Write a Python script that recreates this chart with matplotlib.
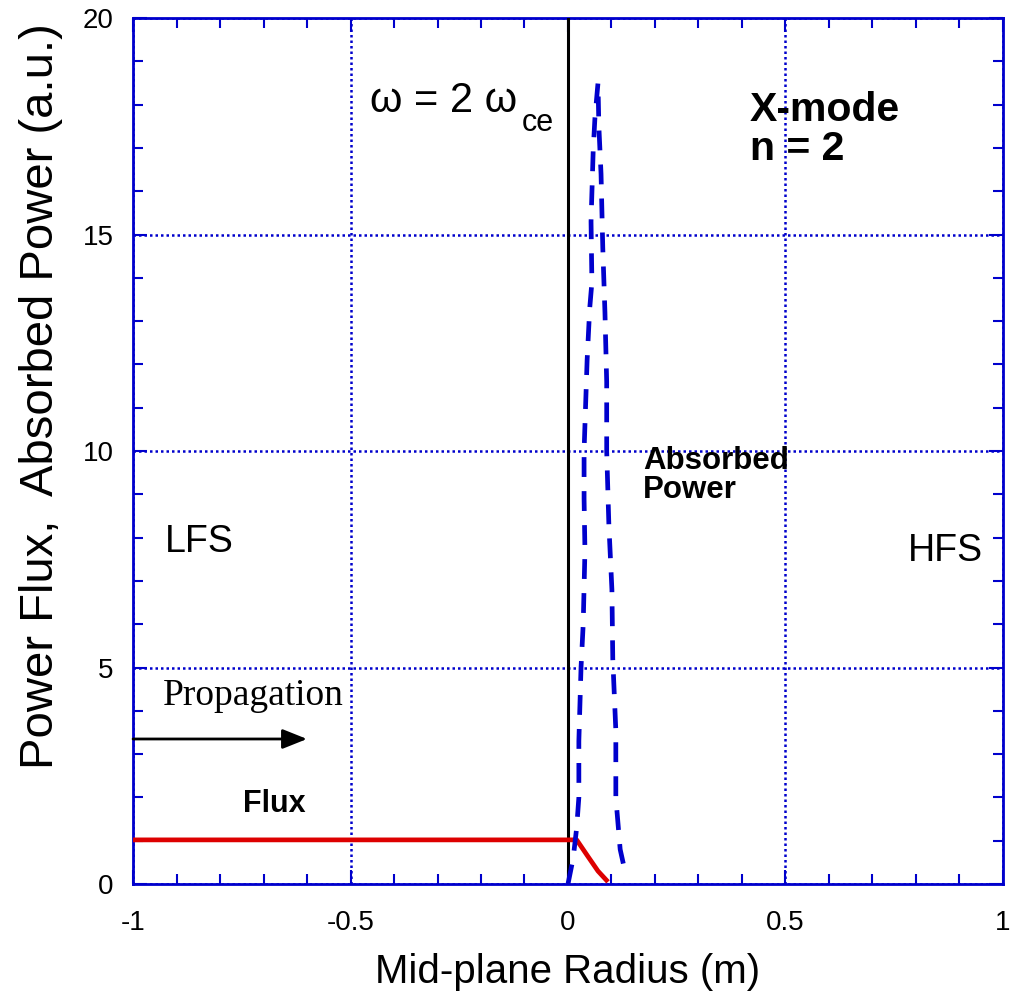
import matplotlib
matplotlib.use('Agg')
import matplotlib.pyplot as plt
import numpy as np

plt.rcParams['font.family'] = 'Liberation Sans'

# red flux curve
flux_x = [-1.0, 0.02, 0.045, 0.069, 0.092]
flux_y = [1.02, 1.02, 0.65, 0.3, 0.05]

# dashed absorbed power curve (up the left side, down the right side)
abs_x = [0.0, 0.012, 0.02, 0.025, 0.025, 0.03, 0.035, 0.039, 0.037, 0.037, 0.044, 0.05, 0.055,
         0.053, 0.058, 0.062, 0.069,
         0.071, 0.076, 0.080, 0.085, 0.089, 0.089, 0.094, 0.101, 0.103, 0.11, 0.11, 0.12, 0.131]
abs_y = [0.0, 0.6, 1.3, 2.0, 3.3, 5.0, 6.0, 7.7, 8.9, 10.0, 12.1, 13.3, 13.9,
         15.3, 16.95, 17.7, 18.5,
         17.5, 16.4, 14.7, 13.2, 11.6, 10.0, 8.3, 6.8, 5.2, 3.55, 2.0, 0.8, 0.3]

x_ticks = [-1, -0.5, 0, 0.5, 1]
x_labels = ['-1', '-0.5', '0', '0.5', '1']
y_ticks = [0, 5, 10, 15, 20]

blue = '#0000cc'

fig = plt.figure(figsize=(10.11, 9.96), dpi=100)
ax = fig.add_axes([0.1316, 0.1124, 0.8604, 0.8695])

ax.set_xlim(-1, 1)
ax.set_ylim(0, 20)

ax.grid(True, color=blue, linestyle=(0, (1, 1.2)), linewidth=1.8)
ax.set_axisbelow(True)

ax.axvline(0, color='k', linewidth=2.2, zorder=3)
ax.plot(flux_x, flux_y, color='#dd0000', linewidth=3.4, zorder=4, solid_capstyle='butt')
ax.plot(abs_x, abs_y, color=blue, linewidth=3.4, dashes=(4.2, 3.0), zorder=4)

ax.set_xticks(x_ticks)
ax.set_xticklabels(x_labels)
ax.set_yticks(y_ticks)
ax.set_xticks(np.arange(-1, 1.01, 0.1), minor=True)
ax.set_yticks(np.arange(0, 20.1, 1), minor=True)
ax.tick_params(which='both', direction='in', top=True, right=True, color=blue, width=1.5)
ax.tick_params(which='major', length=10, labelsize=20)
ax.tick_params(which='minor', length=7)
ax.tick_params(axis='x', pad=19)
ax.tick_params(axis='y', pad=14)
for s in ax.spines.values():
    s.set_color(blue)
    s.set_linewidth(2)

ax.set_xlabel('Mid-plane Radius (m)', fontsize=29, labelpad=12)
ax.set_ylabel('Power Flux,  Absorbed Power (a.u.)', fontsize=34)
ax.yaxis.set_label_coords(-0.081, 0.563)

ax.text(-0.455, 17.83, 'ω = 2 ω', fontsize=30)
ax.text(-0.106, 17.39, 'ce', fontsize=22)
ax.text(0.418, 16.72, 'X-mode\nn = 2', fontsize=29.5, fontweight='bold', linespacing=1.02)
ax.text(0.172, 8.91, 'Absorbed\nPower', fontsize=22.5, fontweight='bold', linespacing=0.95)
ax.text(-0.926, 7.67, 'LFS', fontsize=27)
ax.text(0.782, 7.46, 'HFS', fontsize=27)
ax.text(-0.931, 4.13, 'Propagation', fontsize=27, family='Liberation Serif')
ax.text(-0.747, 1.66, 'Flux', fontsize=22, fontweight='bold')
ax.annotate('', xy=(-0.6, 3.35), xytext=(-1.0, 3.35),
            arrowprops=dict(arrowstyle='-|>,head_length=1.5,head_width=0.6', color='k', lw=2,
                            shrinkA=0, shrinkB=0))

fig.savefig('out.png', dpi=100)
